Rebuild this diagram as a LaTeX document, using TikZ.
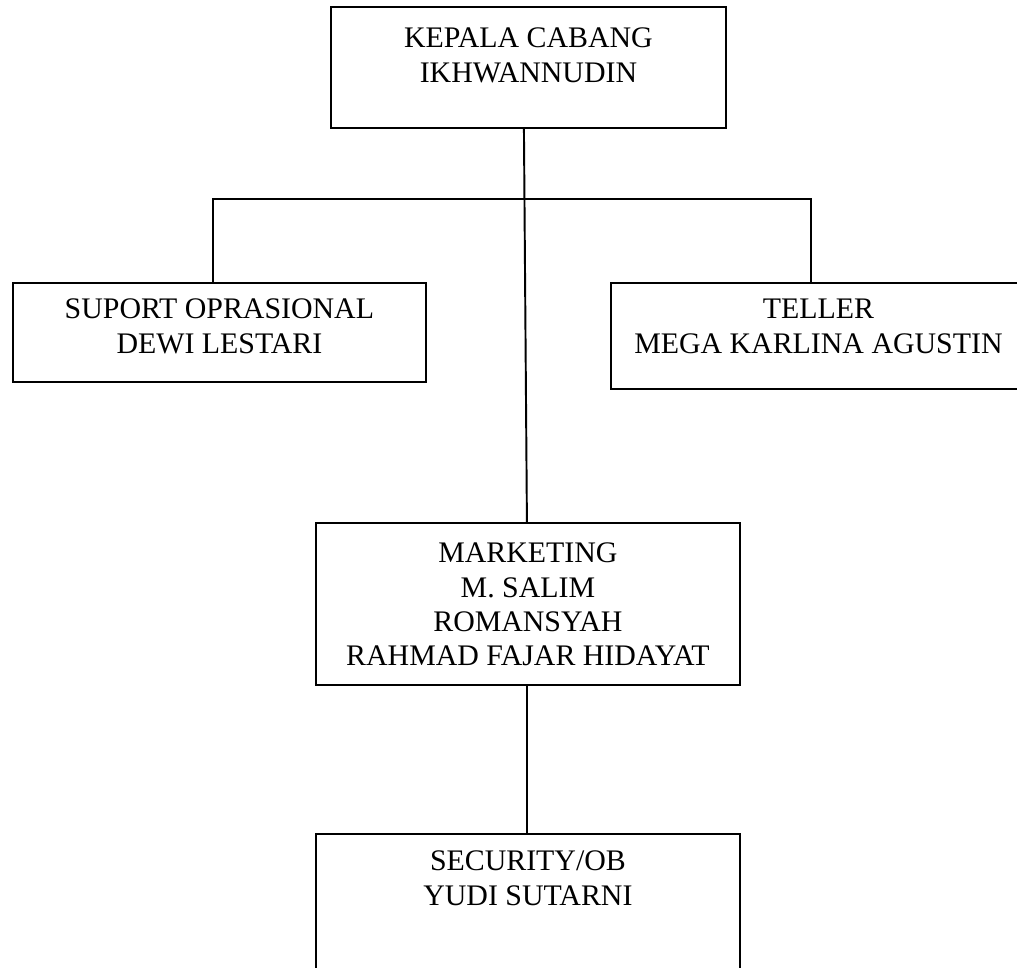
\documentclass[tikz,border=0pt]{standalone}
\usepackage{fontspec}
\setmainfont{Liberation Serif}
\newcommand{\boxtext}[4]{\parbox[c][#2][t]{#1}{\centering\rule{0pt}{#3}#4\par}}
\tikzset{
  orgbox/.style={draw, line width=1.1pt, inner sep=0pt, anchor=north west,
    font=\fontsize{17}{19.5}\selectfont},
  orgline/.style={line width=1.1pt}
}

\begin{document}
\begin{tikzpicture}[x=0.02cm, y=-0.02cm]
    \useasboundingbox (0,0) rectangle (1017,967);
    \node[orgbox] (kepala) at (330,6)
      {\boxtext{7.9cm}{2.42cm}{0.82cm}{KEPALA CABANG\\IKHWANNUDIN}};
    \node[orgbox] (suport) at (12,282)
      {\boxtext{8.26cm}{1.98cm}{0.72cm}{SUPORT OPRASIONAL\\DEWI LESTARI}};
    \node[orgbox] (teller) at (610,282)
      {\boxtext{8.3cm}{2.12cm}{0.72cm}{TELLER\\MEGA KARLINA AGUSTIN}};
    \node[orgbox] (marketing) at (315,522)
      {\boxtext{8.48cm}{3.24cm}{0.80cm}{MARKETING\\M. SALIM\\ROMANSYAH\\RAHMAD FAJAR HIDAYAT}};
    \node[orgbox] (security) at (315,833)
      {\boxtext{8.48cm}{3.4cm}{0.74cm}{SECURITY/OB\\YUDI SUTARNI}};
    \coordinate (bus) at (523,199);
    \draw[orgline] ([xshift=-0.09cm]kepala.south) -- ([xshift=-0.02cm]marketing.north);
    \draw[orgline] ([xshift=-0.13cm]suport.north) |- (bus) -| ([xshift=-0.15cm]teller.north);
    \draw[orgline] ([xshift=-0.02cm]marketing.south) -- ([xshift=-0.02cm]security.north);
  \end{tikzpicture}
\end{document}
